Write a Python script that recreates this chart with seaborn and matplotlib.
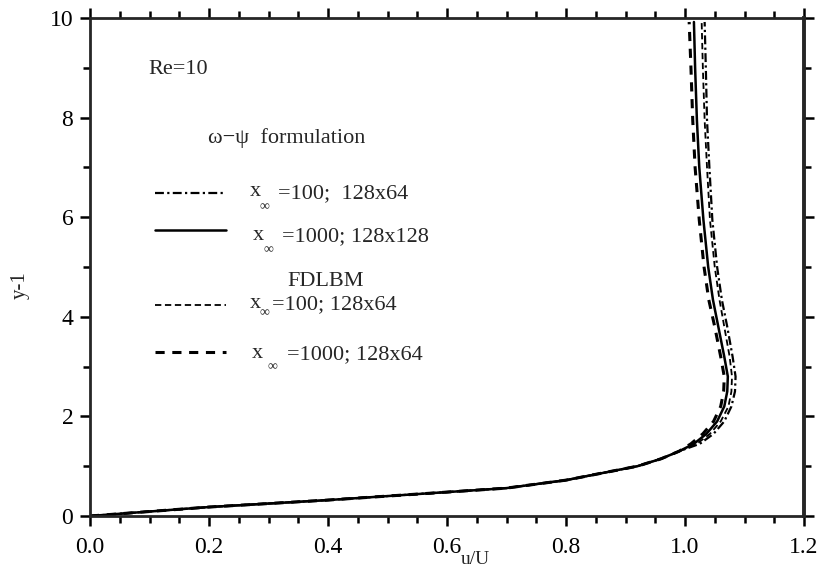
import numpy as np
import pandas as pd
import matplotlib
matplotlib.use("Agg")
import matplotlib.pyplot as plt
import seaborn as sns
from matplotlib.ticker import MultipleLocator

## Data (u/U against y-1)
# shared near-wall part of the four profiles
y_low = [0.0, 0.09, 0.18, 0.25, 0.32, 0.40, 0.48, 0.56, 0.72, 0.86, 1.0, 1.15, 1.3]
u_low = [0.0, 0.10, 0.20, 0.30, 0.40, 0.50, 0.60, 0.70, 0.80, 0.86, 0.92, 0.96, 0.99]

# outer part, one list per curve
y_up = [1.45, 1.65, 1.9, 2.2, 2.5, 2.8, 3.2, 3.8, 4.34, 5.0, 5.94, 7.0, 7.95, 9.0, 9.92]
u_psi_100 = [1.025, 1.048, 1.066, 1.078, 1.084, 1.085, 1.080, 1.071, 1.062, 1.054, 1.046, 1.041, 1.037, 1.035, 1.033]
u_psi_1000 = [1.015, 1.036, 1.054, 1.066, 1.071, 1.072, 1.066, 1.056, 1.047, 1.039, 1.031, 1.024, 1.020, 1.017, 1.015]
u_lbm_100 = [1.020, 1.042, 1.060, 1.073, 1.078, 1.079, 1.075, 1.066, 1.058, 1.050, 1.042, 1.037, 1.033, 1.030, 1.028]
u_lbm_1000 = [1.010, 1.030, 1.048, 1.060, 1.065, 1.066, 1.060, 1.050, 1.040, 1.032, 1.024, 1.017, 1.013, 1.010, 1.007]

curves = ["psi100", "psi1000", "lbm100", "lbm1000"]
upper = [u_psi_100, u_psi_1000, u_lbm_100, u_lbm_1000]

rows = []
for name, u_up in zip(curves, upper):
    for u, y in zip(u_low + u_up, y_low + y_up):
        rows.append({"curve": name, "u": u, "y": y})
df = pd.DataFrame(rows)

dash_map = {"psi100": (4, 1.5, 1, 1.5), "psi1000": "", "lbm100": (3.5, 2), "lbm1000": (3, 2.5)}
lw_map = {"psi100": 1.6, "psi1000": 1.8, "lbm100": 1.3, "lbm1000": 2.2}

sns.set_style("ticks")
plt.rcParams["font.family"] = ["Liberation Serif", "DejaVu Serif"]

fig = plt.figure(figsize=(8.27, 5.69), dpi=100)
ax = fig.add_axes([90 / 827, 1 - 516 / 569, 714 / 827, 498 / 569])

for name in curves:
    sns.lineplot(data=df[df["curve"] == name], x="u", y="y", sort=False, estimator=None,
                 color="black", lw=lw_map[name], ax=ax, legend=False)
    if dash_map[name]:
        ax.lines[-1].set_dashes(dash_map[name])

ax.set_xlim(0, 1.2)
ax.set_ylim(0, 10)
ax.xaxis.set_major_locator(MultipleLocator(0.2))
ax.xaxis.set_minor_locator(MultipleLocator(0.05))
ax.yaxis.set_major_locator(MultipleLocator(2))
ax.yaxis.set_minor_locator(MultipleLocator(1))
ax.set_xticklabels([f"{v:.1f}" for v in ax.get_xticks()])
ax.tick_params(which="both", direction="out", top=True, right=True, width=1.8, colors="black")
ax.tick_params(which="major", length=7)
ax.tick_params(which="minor", length=5)
ax.tick_params(axis="x", labelsize=17, pad=8)
ax.tick_params(axis="y", labelsize=17, pad=5)
for s in ax.spines.values():
    s.set_visible(True)
    s.set_linewidth(2)
ax.spines["right"].set_linewidth(2.8)

ax.set_xlabel("u/U", fontsize=14)
ax.set_ylabel("y-1", fontsize=15)
ax.xaxis.set_label_coords(0.54, -0.07)
ax.yaxis.set_label_coords(-0.084, 0.464)


def P(px, py):
    return ((px - 90) / 714, (516 - py) / 498)


tr = ax.transAxes
ax.text(*P(148, 70), "Re=10", fontsize=16, va="center", transform=tr)
ax.text(*P(208, 138), "ω−ψ  formulation", fontsize=16, va="center", transform=tr)
ax.text(*P(287, 282), "FDLBM", fontsize=16, va="center", transform=tr)

# legend samples and labels
leg_y = [193, 230, 305, 352]
leg_text = ["=100;  128x64", "=1000; 128x128", "=100; 128x64", "=1000; 128x64"]
leg_x = [250, 253, 250, 252]
inf_dx = [10, 10, 10, 16]
inf_dy = [14, 20, 8, 15]
text_dx = [28, 29, 22, 35]
text_dy = [1, 7, 0, 3]
for name, yy, t, xx, idx, idy, tdx, tdy in zip(curves, leg_y, leg_text, leg_x, inf_dx, inf_dy, text_dx, text_dy):
    x0, y0 = P(155, yy)
    x1, _ = P(226, yy)
    ln, = ax.plot([x0, x1], [y0, y0], color="black", lw=lw_map[name], transform=tr, clip_on=False)
    if dash_map[name]:
        ln.set_dashes(dash_map[name])
    ax.text(*P(xx, yy + tdy - 2), "x", fontsize=16, va="center", transform=tr)
    ax.text(*P(xx + idx, yy + idy), "∞", fontsize=10, va="center", transform=tr)
    ax.text(*P(xx + tdx, yy + tdy), t, fontsize=16, va="center", transform=tr)

plt.savefig("out.png", dpi=100)
